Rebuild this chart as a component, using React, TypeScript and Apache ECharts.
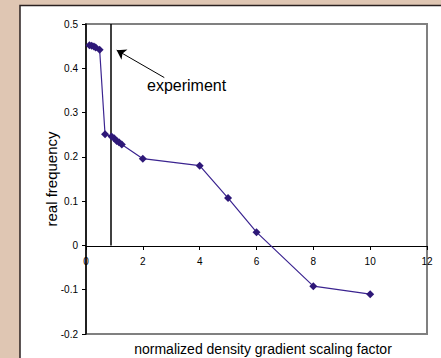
import React, { useEffect, useRef } from "react";
import * as echarts from "echarts";

const xValues = [0.12, 0.2, 0.28, 0.34, 0.48, 0.67, 0.9, 0.99, 1.08, 1.16, 1.26, 2, 4, 5, 6, 8, 10];
const yValues = [0.452, 0.451, 0.449, 0.447, 0.442, 0.251, 0.246, 0.242, 0.236, 0.233, 0.228, 0.196, 0.18, 0.107, 0.03, -0.092, -0.11];
const experimentX = 0.87;
const arrowTail = [2.755, 0.379];
const arrowHead = [1.08, 0.441];
const annotationText = "experiment";
const xAxisTitle = "normalized density gradient scaling factor";
const yAxisTitle = "real frequency";

export default function App() {
  const ref = useRef<HTMLDivElement>(null);
  useEffect(() => {
    if (!ref.current) return;
    const chart = echarts.init(ref.current, null, { renderer: "svg" });
    const font = "Liberation Sans, Arial, sans-serif";
    chart.setOption({
      animation: false,
      backgroundColor: "#dfc6b3",
      textStyle: { fontFamily: font },
      graphic: [
        {
          type: "rect",
          z: -10,
          shape: { x: 20, y: 5.5, width: 440, height: 360 },
          style: { fill: "#ffffff", stroke: "#2a2020", lineWidth: 1.5 },
        },
        {
          type: "text",
          x: 147,
          y: 85,
          style: {
            text: annotationText,
            font: `16px ${font}`,
            fill: "#000",
            textVerticalAlign: "middle",
          },
        },
        {
          type: "text",
          x: 263,
          y: 349,
          style: {
            text: xAxisTitle,
            font: `14px ${font}`,
            fill: "#000",
            textAlign: "center",
            textVerticalAlign: "middle",
          },
        },
      ],
      grid: {
        left: 86,
        top: 24,
        right: 14,
        bottom: 24,
        show: true,
        borderColor: "#808080",
        borderWidth: 2,
        backgroundColor: "transparent",
      },
      xAxis: {
        type: "value",
        min: 0,
        max: 12,
        interval: 2,
        position: "bottom",
        offset: -88,
        axisLine: { onZero: false, lineStyle: { color: "#000", width: 1.2 } },
        axisTick: { show: true, inside: false, length: 4, lineStyle: { color: "#000" } },
        axisLabel: { fontSize: 10, color: "#000", margin: 10, fontFamily: font },
        splitLine: { show: false },
      },
      yAxis: {
        type: "value",
        min: -0.2,
        max: 0.5,
        interval: 0.1,
        name: yAxisTitle,
        nameLocation: "middle",
        nameRotate: 90,
        nameGap: 27,
        nameMoveOverlap: false,
        nameTextStyle: { fontSize: 15, color: "#000", fontFamily: font },
        axisLine: { show: true, lineStyle: { color: "#000", width: 1.5 } },
        axisTick: { show: true, inside: false, length: 4, lineStyle: { color: "#000" } },
        axisLabel: {
          fontSize: 10,
          color: "#000",
          margin: 8,
          fontFamily: font,
          formatter: (v: number) => String(Math.round(v * 10) / 10),
        },
        splitLine: { show: false },
      },
      series: [
        {
          type: "line",
          data: xValues.map((x, i) => [x, yValues[i]]),
          symbol: "diamond",
          symbolSize: 8,
          lineStyle: { color: "#3b2490", width: 1.2 },
          itemStyle: { color: "#2e1878" },
          z: 5,
          markLine: {
            silent: true,
            animation: false,
            label: { show: false },
            data: [
              [
                { coord: [experimentX, 0.5], symbol: "none" },
                { coord: [experimentX, 0], symbol: "none", lineStyle: { color: "#000", width: 1.5, type: "solid" } },
              ],
              [
                { coord: arrowTail, symbol: "none" },
                { coord: arrowHead, symbol: "arrow", symbolSize: 9, lineStyle: { color: "#000", width: 1, type: "solid" } },
              ],
            ],
            lineStyle: { color: "#000", type: "solid" },
          },
        },
      ],
    });
    return () => chart.dispose();
  }, []);
  return <div ref={ref} style={{ position: "fixed", left: 0, top: 0, width: 441, height: 358 }} />;
}
